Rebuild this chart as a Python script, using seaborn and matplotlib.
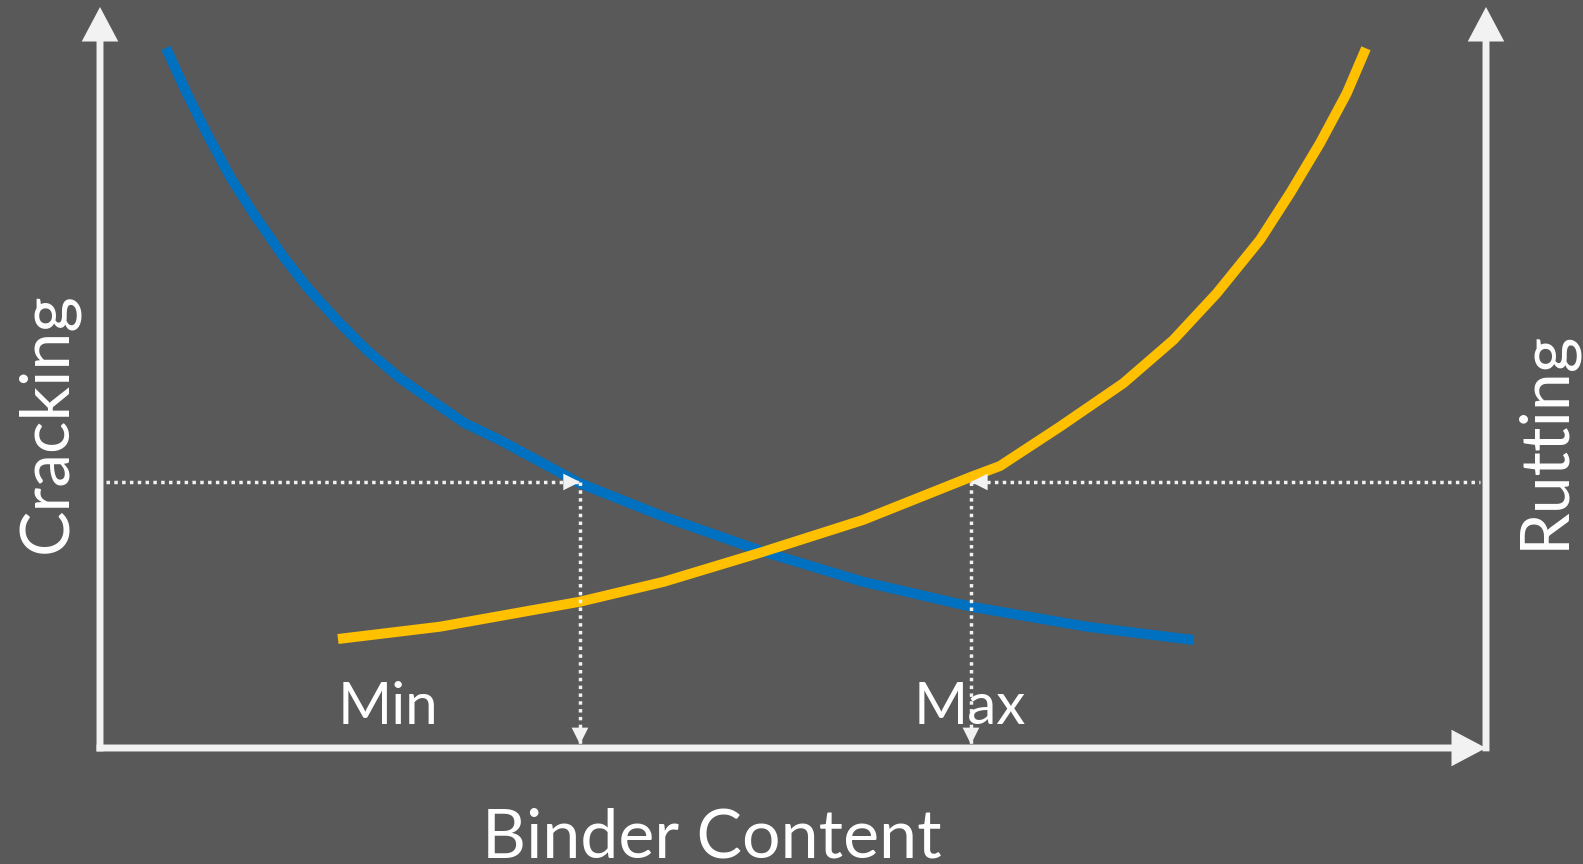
import matplotlib
matplotlib.use("Agg")
import matplotlib.pyplot as plt
import seaborn as sns
import pandas as pd

# ---- data (conceptual units: x = binder content 0-100, y = distress 0-100) ----
crack_x = [4.76, 6.26, 7.70, 9.38, 11.06, 13.23, 14.91, 17.08, 19.24, 21.65, 24.05, 26.33,
           28.84, 34.62, 40.69, 47.86, 55.04, 62.86, 71.20, 78.91]
crack_y = [94.47, 88.35, 82.96, 77.10, 72.16, 66.30, 62.25, 57.76, 53.71, 49.89, 46.73, 43.82,
           41.57, 35.72, 31.21, 26.49, 22.44, 19.07, 16.37, 14.57]
rut_x = [17.17, 24.53, 34.62, 40.69, 47.86, 55.04, 62.86, 64.94, 69.26, 73.83, 77.44, 80.57,
         83.69, 85.86, 88.02, 89.95, 91.34]
rut_y = [14.71, 16.37, 19.74, 22.44, 26.49, 30.77, 36.6, 38.06, 43.36, 49.22, 55.06, 61.36,
         68.56, 74.86, 81.61, 88.35, 94.43]
threshold = 35.9
min_x = 34.63
max_x = 62.84
labels = {"x": "Binder Content", "left": "Cracking", "right": "Rutting", "min": "Min", "max": "Max"}

BG = "#595959"
WHITE = "#f2f2f2"
BLUE = "#0070C0"
YELLOW = "#FFC000"

sns.set_style("white", {"axes.facecolor": BG, "figure.facecolor": BG})
plt.rcParams["font.family"] = ["Lato", "DejaVu Sans"]

fig = plt.figure(figsize=(15.83, 8.64), dpi=100)
fig.patch.set_facecolor(BG)
ax = fig.add_axes([100 / 1583, 1 - 748 / 864, 1386 / 1583, 741 / 864])
ax.set_facecolor(BG)
ax.axis("off")

df_c = pd.DataFrame({"x": crack_x, "y": crack_y})
df_r = pd.DataFrame({"x": rut_x, "y": rut_y})
sns.lineplot(data=df_c, x="x", y="y", ax=ax, color=BLUE, lw=7.2, sort=False,
             solid_capstyle="butt", solid_joinstyle="round", clip_on=False, zorder=3)
sns.lineplot(data=df_r, x="x", y="y", ax=ax, color=YELLOW, lw=7.2, sort=False,
             solid_capstyle="butt", solid_joinstyle="round", clip_on=False, zorder=3)
ax.set_xlim(0, 100)
ax.set_ylim(0, 100)

# ---- axes arrows ----
axis_arrow = dict(arrowstyle="-|>,head_length=0.85,head_width=0.45", color=WHITE,
                  lw=5, shrinkA=0, shrinkB=0, mutation_scale=20,
                  joinstyle="miter", capstyle="butt")
ax.annotate("", xy=(0, 100), xytext=(0, -0.45), arrowprops=axis_arrow, annotation_clip=False)
ax.annotate("", xy=(100, 100), xytext=(100, -0.45), arrowprops=axis_arrow, annotation_clip=False)
ax.annotate("", xy=(100, 0), xytext=(-0.25, 0), arrowprops=axis_arrow, annotation_clip=False)

# ---- dotted guide lines ----
dot_kw = dict(color=WHITE, lw=2.5, linestyle=(0, (1, 1.25)), zorder=4, clip_on=False)
ax.plot([0.4, min_x], [threshold, threshold], **dot_kw)
ax.plot([max_x, 99.6], [threshold, threshold], **dot_kw)
ax.plot([min_x, min_x], [threshold, 0.6], **dot_kw)
ax.plot([max_x, max_x], [threshold, 0.6], **dot_kw)

head = dict(arrowstyle="-|>,head_length=0.8,head_width=0.4", color=WHITE, lw=0,
            shrinkA=0, shrinkB=0, mutation_scale=15)
ax.annotate("", xy=(min_x, threshold), xytext=(min_x - 3, threshold), arrowprops=head, zorder=5)
ax.annotate("", xy=(max_x, threshold), xytext=(max_x + 3, threshold), arrowprops=head, zorder=5)
ax.annotate("", xy=(min_x, 0.5), xytext=(min_x, 5), arrowprops=head, zorder=5)
ax.annotate("", xy=(max_x, 0.5), xytext=(max_x, 5), arrowprops=head, zorder=5)
ax.set_xlim(0, 100)
ax.set_ylim(0, 100)

# ---- text ----
fig.text(712 / 1583, 1 - 858 / 864, labels["x"], color="white", fontsize=49,
         ha="center", va="baseline")
fig.text(48 / 1583, 1 - 423 / 864, labels["left"], color="white", fontsize=49,
         rotation=90, ha="center", va="center")
fig.text(1545 / 1583, 1 - 439 / 864, labels["right"], color="white", fontsize=49,
         rotation=90, ha="center", va="center")
fig.text(338 / 1583, 1 - 724 / 864, labels["min"], color="white", fontsize=42,
         ha="left", va="baseline")
fig.text(914 / 1583, 1 - 724 / 864, labels["max"], color="white", fontsize=42,
         ha="left", va="baseline")

fig.savefig("out.png", dpi=100, facecolor=BG)
